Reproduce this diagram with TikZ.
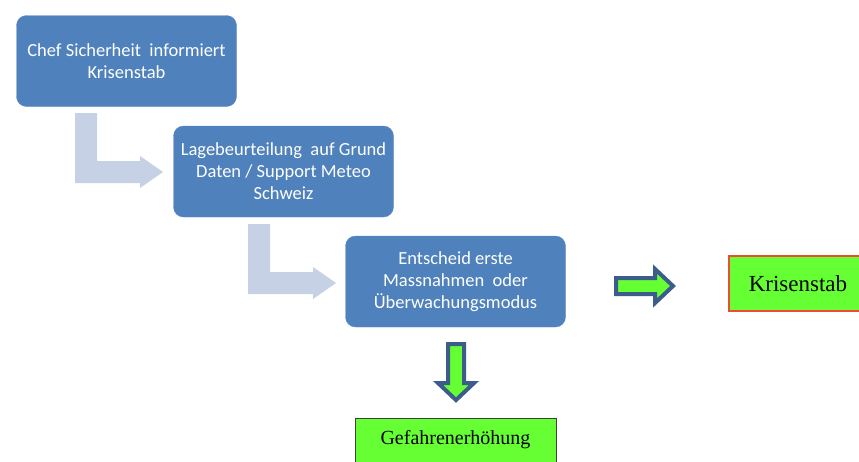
\documentclass[tikz,border=0pt]{standalone}
\usepackage{fontspec}
\setmainfont{Liberation Serif}
\newfontfamily\kastenfont{Carlito}
\usepackage{xcolor}
\usepackage{tikz}
\usetikzlibrary{positioning}
\definecolor{kasten}{HTML}{4F81BD}
\definecolor{blass}{HTML}{C6D1E5}
\definecolor{rand}{HTML}{3C5D8B}
\definecolor{gruen}{HTML}{66FF33}
\definecolor{rot}{HTML}{F04A30}

\begin{document}
\begin{tikzpicture}[x=1pt, y=-1pt,
  schritt/.style={fill=kasten, draw=kasten!90!white, rounded corners=10pt, minimum width=220pt, minimum height=91pt, text=white, font=\kastenfont\fontsize{18.5}{22}\selectfont, align=center, inner sep=0pt},
  ziel/.style={fill=gruen, font=\fontsize{20}{24}\selectfont, inner sep=0pt},
  bogen/.style={fill=blass},
  block/.style={fill=gruen, draw=rand, line width=4pt, line join=miter}
]
\useasboundingbox (0,0) rectangle (859,461);
\clip (0,0) rectangle (859,461);

\node[schritt] (chef) at (126.5,61) {Chef Sicherheit\ \ informiert\\Krisenstab};
\node[schritt] (lage) at (283.5,171.5) {Lagebeurteilung\ \ auf Grund\\Daten / Support Meteo\\Schweiz};
\node[schritt] (entscheid) at (455.5,281.5) {Entscheid erste\\Massnahmen\ \ oder\\Überwachungsmodus};

\node[ziel, draw=rot, line width=1.5pt, minimum width=138pt, minimum height=55pt, font=\fontsize{23}{26}\selectfont] (stab) at (798,283.5) {Krisenstab};
\node[ziel, draw=black!75, line width=1pt, minimum width=201pt, minimum height=44pt] (gefahr) at (455.5,440) {Gefahrenerhöhung};

% gebogene Pfeile
\fill[bogen] (75,113) -- (97,113) -- (97,161) -- (140,161) -- (140,156) -- (163,172) -- (140,188) -- (140,183) -- (75,183) -- cycle;
\fill[bogen, shift={(173,111)}] (75,113) -- (97,113) -- (97,161) -- (140,161) -- (140,156) -- (163,172) -- (140,188) -- (140,183) -- (75,183) -- cycle;

% Blockpfeile
\draw[block] (616,278) -- (655,278) -- (655,269) -- (673,286) -- (655,303) -- (655,294) -- (616,294) -- cycle;
\draw[block] (448,344) -- (464,344) -- (464,383) -- (474,383) -- (456,400) -- (438,383) -- (448,383) -- cycle;
\end{tikzpicture}
\end{document}
